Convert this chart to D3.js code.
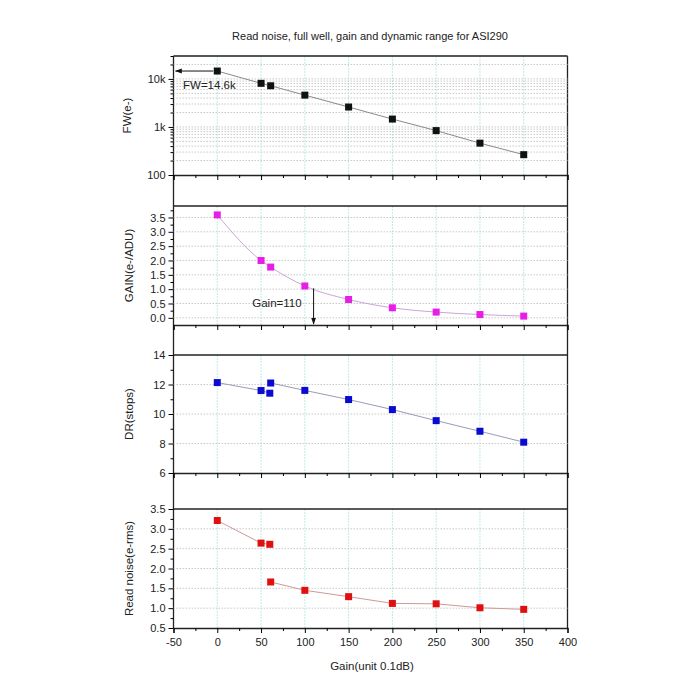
<!DOCTYPE html>
<html>
<head>
<meta charset="utf-8">
<script src="https://cdn.jsdelivr.net/npm/d3@7"></script>
<style>
  body { margin: 0; background: #fff; }
  svg text { font-family: "Liberation Sans", Arial, sans-serif; fill: #222; }
</style>
</head>
<body>
<div id="chart"></div>
<script>
// gain setting (unit 0.1dB)
const gainSteps = [0, 50, 61, 100, 150, 200, 250, 300, 350];
const fullWell = [14600, 8100, 7200, 4600, 2600, 1460, 840, 460, 265];
const eADU = [3.59, 2.0, 1.77, 1.11, 0.64, 0.35, 0.2, 0.115, 0.06];

// low / high conversion gain modes
const lowModeGain = [0, 50, 60];
const highModeGain = [61, 100, 150, 200, 250, 300, 350];
const drLow = [12.13, 11.59, 11.41];
const drHigh = [12.1, 11.6, 10.98, 10.3, 9.55, 8.83, 8.09];
const noiseLow = [3.21, 2.64, 2.61];
const noiseHigh = [1.66, 1.45, 1.29, 1.12, 1.11, 1.01, 0.97];

const xTicks = [-50, 0, 50, 100, 150, 200, 250, 300, 350, 400];
const fwLabel = `FW=14.6k`;
const gainMark = 110;

const width = 700;
const height = 700;
const left = 173.5, right = 567.5;

const svg = d3.select(`#chart`).append(`svg`)
  .attr(`width`, width).attr(`height`, height);

svg.append(`defs`).append(`marker`)
  .attr(`id`, `arrow`)
  .attr(`viewBox`, `0 0 10 10`)
  .attr(`refX`, 9).attr(`refY`, 5)
  .attr(`markerWidth`, 7).attr(`markerHeight`, 7)
  .attr(`orient`, `auto-start-reverse`)
  .append(`path`).attr(`d`, `M0,1.5L10,5L0,8.5Z`).attr(`fill`, `#111`);

const xScale = d3.scaleLinear().domain([-50, 400]).range([left, right]);

svg.append(`text`)
  .attr(`x`, 370).attr(`y`, 40)
  .attr(`text-anchor`, `middle`)
  .style(`font-size`, `11px`)
  .text(`Read noise, full well, gain and dynamic range for ASI290`);

// outer side lines running through all panels
svg.append(`line`).attr(`x1`, left).attr(`x2`, left).attr(`y1`, 56).attr(`y2`, 628)
  .attr(`stroke`, `#222`).attr(`stroke-width`, 1.3);
svg.append(`line`).attr(`x1`, right).attr(`x2`, right).attr(`y1`, 56).attr(`y2`, 628)
  .attr(`stroke`, `#222`).attr(`stroke-width`, 1.3);

function drawPanel(p) {
  const g = svg.append(`g`);
  const y = p.y;

  // vertical grid
  g.selectAll(`.vg`).data(xTicks.slice(1, -1)).enter().append(`line`)
    .attr(`x1`, (d) => xScale(d)).attr(`x2`, (d) => xScale(d))
    .attr(`y1`, p.top).attr(`y2`, p.bottom)
    .attr(`stroke`, `#bfeaea`).attr(`stroke-width`, 1)
    .attr(`stroke-dasharray`, `2,1`);

  // horizontal grid
  g.selectAll(`.hg`).data(p.grid).enter().append(`line`)
    .attr(`x1`, left).attr(`x2`, right)
    .attr(`y1`, (d) => y(d)).attr(`y2`, (d) => y(d))
    .attr(`stroke`, `#c8c8c8`).attr(`stroke-width`, 1)
    .attr(`stroke-dasharray`, `1.5,1.5`);

  // top line
  g.append(`line`).attr(`x1`, left).attr(`x2`, right)
    .attr(`y1`, p.top).attr(`y2`, p.top)
    .attr(`stroke`, `#222`).attr(`stroke-width`, 1.3);

  // bottom axis
  const xAxis = g.append(`g`)
    .attr(`transform`, `translate(0, ${p.bottom})`)
    .call(d3.axisBottom(xScale).tickValues(xTicks).tickSize(5)
      .tickFormat(p.showX ? (d) => `${d}` : ``));
  xAxis.select(`.domain`).attr(`stroke`, `#222`).attr(`stroke-width`, 1.3);
  xAxis.selectAll(`text`).style(`font-size`, `11px`).attr(`fill`, `#222`).attr(`dy`, `0.95em`);
  g.append(`g`)
    .attr(`transform`, `translate(0, ${p.bottom})`)
    .call(d3.axisBottom(xScale).tickValues(d3.range(-25, 400, 50)).tickSize(3).tickFormat(``))
    .select(`.domain`).remove();

  // left axis
  const yAxis = g.append(`g`)
    .attr(`transform`, `translate(${left}, 0)`)
    .call(d3.axisLeft(y).tickValues(p.ticks).tickSize(5).tickFormat(p.fmt));
  yAxis.select(`.domain`).remove();
  yAxis.selectAll(`text`).style(`font-size`, `11px`).attr(`fill`, `#222`);
  g.append(`g`)
    .attr(`transform`, `translate(${left}, 0)`)
    .call(d3.axisLeft(y).tickValues(p.minor).tickSize(3).tickFormat(``))
    .select(`.domain`).remove();

  g.append(`text`)
    .attr(`transform`, `translate(${p.labelX}, ${(p.top + p.bottom) / 2}) rotate(-90)`)
    .attr(`text-anchor`, `middle`)
    .style(`font-size`, `11.5px`)
    .text(p.label);

  p.series.forEach((s) => {
    const pts = s.x.map((xv, i) => [xv, s.v[i]]);
    g.append(`path`)
      .attr(`d`, d3.line()
        .x((d) => xScale(d[0])).y((d) => y(d[1]))
        .curve(s.curve || d3.curveLinear)(pts))
      .attr(`fill`, `none`).attr(`stroke`, p.lineColor).attr(`stroke-width`, 1);
  });
  p.series.forEach((s) => {
    const pts = s.x.map((xv, i) => [xv, s.v[i]]);
    g.selectAll(null).data(pts).enter().append(`rect`)
      .attr(`x`, (d) => xScale(d[0]) - 3.5).attr(`y`, (d) => y(d[1]) - 3.5)
      .attr(`width`, 7).attr(`height`, 7)
      .attr(`fill`, p.color);
  });
  return g;
}

// Panel 1: full well (log)
const yFW = d3.scaleLog().domain([100, 30000]).range([175, 56]);
const logMinor = [];
[100, 1000, 10000].forEach((b) => d3.range(2, 10).forEach((m) => { if (b * m <= 30000) logMinor.push(b * m); }));
const g1 = drawPanel({
  top: 56, bottom: 175, y: yFW,
  ticks: [100, 1000, 10000],
  fmt: (d) => (d >= 1000 ? `${d / 1000}k` : `${d}`),
  minor: logMinor,
  grid: [1000, 10000].concat(logMinor),
  label: `FW(e-)`, labelX: 131,
  color: `#111`, lineColor: `#8a8a8a`,
  series: [{ x: gainSteps, v: fullWell }],
});
g1.append(`line`)
  .attr(`x1`, xScale(gainSteps[0]) - 4).attr(`x2`, xScale(-50) + 2)
  .attr(`y1`, yFW(fullWell[0])).attr(`y2`, yFW(fullWell[0]))
  .attr(`stroke`, `#111`).attr(`stroke-width`, 1)
  .attr(`marker-end`, `url(#arrow)`);
g1.append(`text`)
  .attr(`x`, 183).attr(`y`, 89)
  .style(`font-size`, `11.5px`)
  .text(fwLabel);

// Panel 2: e-/ADU
const yGain = d3.scaleLinear().domain([-0.25, 3.9]).range([325, 206]);
const gainCurve = d3.curveMonotoneX;
const g2 = drawPanel({
  top: 206, bottom: 325, y: yGain,
  ticks: d3.range(0, 3.6, 0.5),
  fmt: d3.format(`.1f`),
  minor: d3.range(0.25, 3.9, 0.5),
  grid: d3.range(0, 3.6, 0.5),
  label: `GAIN(e-/ADU)`, labelX: 133,
  color: `#e81ee8`, lineColor: `#c9a6d6`,
  series: [{ x: gainSteps, v: eADU, curve: gainCurve }],
});
g2.append(`line`)
  .attr(`x1`, xScale(gainMark)).attr(`x2`, xScale(gainMark))
  .attr(`y1`, yGain(1.03)).attr(`y2`, yGain(-0.25) - 1)
  .attr(`stroke`, `#111`).attr(`stroke-width`, 1)
  .attr(`marker-end`, `url(#arrow)`);
g2.append(`text`)
  .attr(`x`, xScale(gainMark) - 12).attr(`y`, 307)
  .attr(`text-anchor`, `end`)
  .style(`font-size`, `11.5px`)
  .text(`Gain=${gainMark}`);

// Panel 3: dynamic range
drawPanel({
  top: 355, bottom: 473,
  y: d3.scaleLinear().domain([6, 14]).range([473, 355]),
  ticks: [6, 8, 10, 12, 14],
  fmt: d3.format(`d`),
  minor: [7, 9, 11, 13],
  grid: [8, 10, 12],
  label: `DR(stops)`, labelX: 133,
  color: `#0a0ad0`, lineColor: `#9a9ab8`,
  series: [{ x: lowModeGain, v: drLow }, { x: highModeGain, v: drHigh }],
});

// Panel 4: read noise
drawPanel({
  top: 509, bottom: 628, showX: true,
  y: d3.scaleLinear().domain([0.5, 3.5]).range([628, 509]),
  ticks: d3.range(0.5, 3.6, 0.5),
  fmt: d3.format(`.1f`),
  minor: d3.range(0.75, 3.5, 0.5),
  grid: d3.range(1, 3.1, 0.5),
  label: `Read noise(e-rms)`, labelX: 133,
  color: `#e01010`, lineColor: `#cc9a9a`,
  series: [{ x: lowModeGain, v: noiseLow }, { x: highModeGain, v: noiseHigh }],
});

svg.append(`text`)
  .attr(`x`, 372).attr(`y`, 670)
  .attr(`text-anchor`, `middle`)
  .style(`font-size`, `11.5px`)
  .text(`Gain(unit 0.1dB)`);
</script>
</body>
</html>
